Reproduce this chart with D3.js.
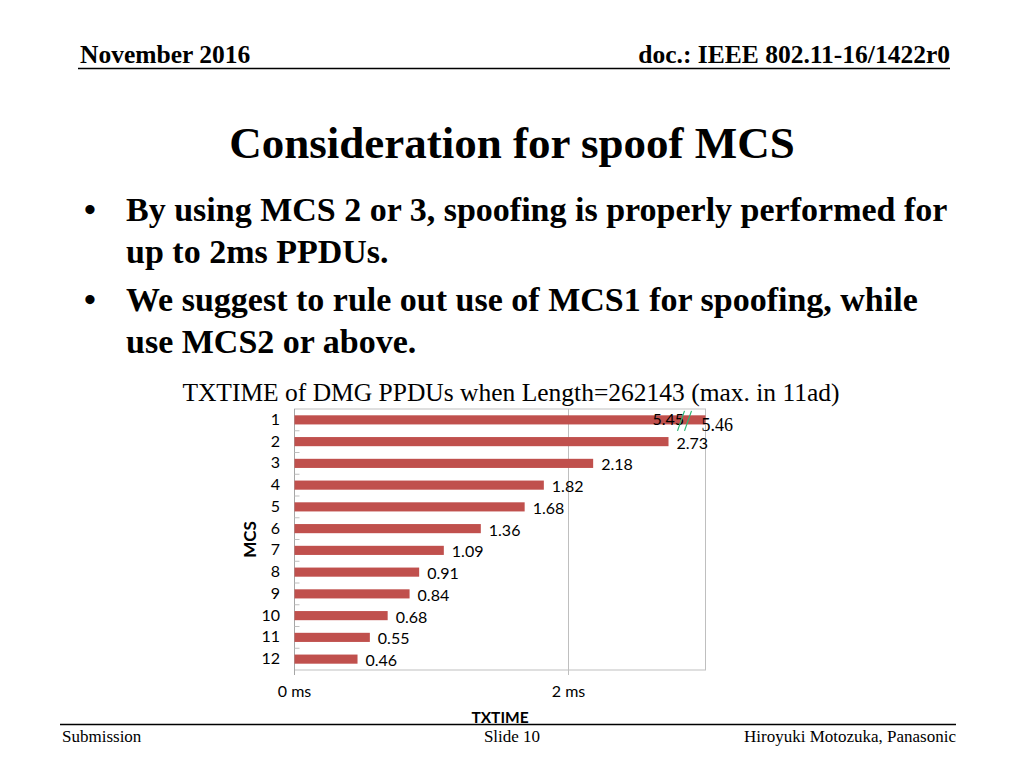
<!DOCTYPE html>
<html>
<head>
<meta charset="utf-8">
<script src="https://cdn.jsdelivr.net/npm/d3@7"></script>
<style>
  body { margin: 0; background: #fff; }
  svg text { fill: #000; }
</style>
</head>
<body>
<script>
"use strict";

// slide texts
var headerLeft = "November 2016";
var headerRight = "doc.: IEEE 802.11-16/1422r0";
var slideTitle = "Consideration for spoof MCS";
var bullets = [
  ["By using MCS 2 or 3, spoofing is properly performed for", "up to 2ms PPDUs."],
  ["We suggest to rule out use of MCS1 for spoofing, while", "use MCS2 or above."]
];
var footer = ["Submission", "Slide 10", "Hiroyuki Motozuka, Panasonic"];

// chart data
var chartTitle = "TXTIME of DMG PPDUs when Length=262143 (max. in 11ad)";
var mcs = ["1","2","3","4","5","6","7","8","9","10","11","12"];
var txtime = [5.45, 2.73, 2.18, 1.82, 1.68, 1.36, 1.09, 0.91, 0.84, 0.68, 0.55, 0.46];
var xTicks = [0, 2];
var xMax = 3;
var breakNote = "5.46";

var W = 1024, H = 768;
var svg = d3.select("body").append("svg").attr("width", W).attr("height", H);

var serif = "'Liberation Serif', 'Times New Roman', serif";
var sans = "Lato, 'Open Sans', sans-serif";

///// header + footer
svg.append("text").attr("x", 80).attr("y", 63).style("font-family", serif)
  .style("font-size", "25.5px").style("font-weight", "bold").text(headerLeft);
svg.append("text").attr("x", 950).attr("y", 63).attr("text-anchor", "end").style("font-family", serif)
  .style("font-size", "25.5px").style("font-weight", "bold").text(headerRight);
svg.append("line").attr("x1", 78).attr("x2", 950).attr("y1", 68.5).attr("y2", 68.5)
  .attr("stroke", "#000").attr("stroke-width", 1.5);

svg.append("line").attr("x1", 60).attr("x2", 956).attr("y1", 724.5).attr("y2", 724.5)
  .attr("stroke", "#000").attr("stroke-width", 1.5);
[[62, "start"], [512, "middle"], [956, "end"]].forEach((p, i) => {
  svg.append("text").attr("x", p[0]).attr("y", 742).attr("text-anchor", p[1])
    .style("font-family", serif).style("font-size", "17px").text(footer[i]);
});

///// title + bullets
svg.append("text").attr("x", 512).attr("y", 158).attr("text-anchor", "middle").style("font-family", serif)
  .style("font-size", "45px").style("font-weight", "bold").text(slideTitle);

var by = 221;
bullets.forEach(b => {
  svg.append("text").attr("x", 84).attr("y", by).style("font-family", serif)
    .style("font-size", "34px").style("font-weight", "bold").text("\u2022");
  b.forEach((line, j) => {
    svg.append("text").attr("x", 126).attr("y", by + j * 42).style("font-family", serif)
      .style("font-size", "34px").style("font-weight", "bold").text(line);
  });
  by += 90;
});

///// chart
svg.append("text").attr("x", 511).attr("y", 401).attr("text-anchor", "middle").style("font-family", serif)
  .style("font-size", "25.5px").text(chartTitle);

var pLeft = 294.5, pRight = 705.5, pTop = 409, pBottom = 670;

var x = d3.scaleLinear().domain([0, xMax]).range([pLeft, pRight]);
var y = d3.scaleBand().domain(mcs).range([pTop, pBottom]).paddingInner(0.58).paddingOuter(0.29);
var yb = d3.scaleBand().domain(mcs).range([pTop, pBottom]);

var g = svg.append("g");

// plot frame
g.append("rect").attr("x", pLeft).attr("y", pTop).attr("width", pRight - pLeft).attr("height", pBottom - pTop)
  .attr("fill", "none").attr("stroke", "#bfbfbf").attr("stroke-width", 1);

// gridlines
g.selectAll(".grid").data(xTicks.filter(d => d > 0)).enter().append("line")
  .attr("x1", d => x(d)).attr("x2", d => x(d)).attr("y1", pTop).attr("y2", pBottom + 5)
  .attr("stroke", "#bfbfbf").attr("stroke-width", 1);

// y axis line + small ticks between categories
g.append("line").attr("x1", pLeft).attr("x2", pLeft).attr("y1", pTop).attr("y2", pBottom + 5)
  .attr("stroke", "#a6a6a6").attr("stroke-width", 1);
g.selectAll(".ytick").data(mcs.slice(1)).enter().append("line")
  .attr("x1", pLeft).attr("x2", pLeft + 5)
  .attr("y1", d => yb(d)).attr("y2", d => yb(d))
  .attr("stroke", "#bfbfbf");

// bars
g.selectAll(".bar").data(txtime).enter().append("rect")
  .attr("x", pLeft)
  .attr("y", (d, i) => y(mcs[i]))
  .attr("width", d => x(Math.min(d, xMax)) - pLeft)
  .attr("height", y.bandwidth())
  .attr("fill", "#C0504D");

// category labels
g.selectAll(".cat").data(mcs).enter().append("text")
  .attr("x", 280).attr("y", d => yb(d) + yb.bandwidth() / 2 + 5)
  .attr("text-anchor", "end").style("font-family", sans).style("font-size", "16px")
  .text(d => d);

// value labels
g.selectAll(".val").data(txtime).enter().append("text")
  .attr("x", d => d > xMax ? x(xMax) - 53 : x(d) + 8)
  .attr("y", (d, i) => y(mcs[i]) + y.bandwidth() / 2 + 7)
  .attr("dy", (d, i) => d > xMax ? -2 : 0)
  .style("font-family", sans).style("font-size", "16px")
  .text(d => d.toFixed(2));

// axis break marks on truncated bar
txtime.forEach((d, i) => {
  if (d <= xMax) return;
  var cy = y(mcs[i]) + y.bandwidth() / 2;
  [0, 7].forEach(o => {
    g.append("line").attr("x1", x(xMax) - 28 + o).attr("x2", x(xMax) - 21 + o)
      .attr("y1", cy + 11).attr("y2", cy - 9)
      .attr("stroke", "#2bb673").attr("stroke-width", 1.2);
  });
  g.append("text").attr("x", x(xMax) - 4).attr("y", cy + 11)
    .style("font-family", serif).style("font-size", "18px").text(breakNote);
});

// x tick labels
g.selectAll(".xt").data(xTicks).enter().append("text")
  .attr("x", d => x(d)).attr("y", 697).attr("text-anchor", "middle")
  .style("font-family", sans).style("font-size", "16px")
  .text(d => d + " ms");

// axis titles
g.append("text").attr("x", 500).attr("y", 723).attr("text-anchor", "middle")
  .style("font-family", sans).style("font-size", "15.5px").style("font-weight", "bold").text("TXTIME");
g.append("text").attr("transform", "translate(256," + ((pTop + pBottom) / 2) + ") rotate(-90)")
  .attr("text-anchor", "middle")
  .style("font-family", sans).style("font-size", "17px").style("font-weight", "bold").text("MCS");
</script>
</body>
</html>
